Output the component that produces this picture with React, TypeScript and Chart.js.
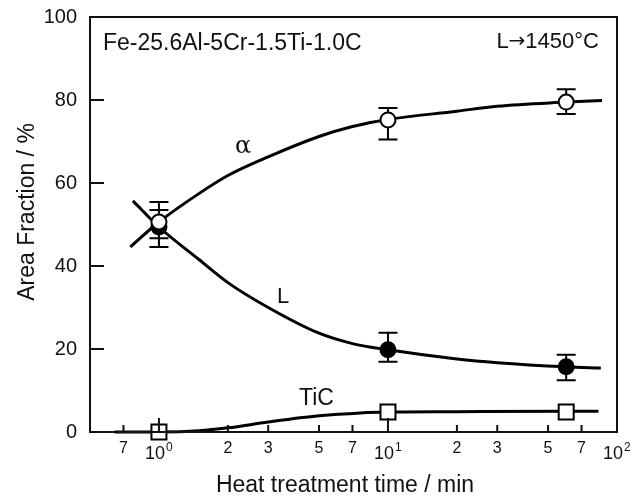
import React, { useEffect, useRef } from 'react';
import { Chart, registerables } from 'chart.js';

Chart.register(...registerables);

// measured points
const pointTimes = [1, 10, 60];
const alphaValues = [50.6, 75.2, 79.5];
const alphaErrLow = [46.7, 70.5, 76.6];
const alphaErrHigh = [55.4, 78.1, 82.6];
const liquidValues = [49.4, 19.8, 15.7];
const liquidErrLow = [44.6, 16.9, 12.5];
const liquidErrHigh = [53.5, 23.9, 18.6];
const ticValues = [0, 4.8, 4.8];

// fitted curves
const alphaCurveTimes = [0.75, 1, 1.5, 2, 3, 5, 7, 10, 20, 30, 60, 86];
const alphaCurveValues = [44.6, 50.6, 57.5, 61.8, 66.3, 71.2, 73.6, 75.3, 77.3, 78.5, 79.5, 79.9];
const liquidCurveTimes = [0.77, 1, 1.5, 2, 3, 5, 7, 10, 20, 30, 60, 85];
const liquidCurveValues = [55.7, 49.4, 41.5, 36.0, 30.0, 23.8, 21.3, 19.8, 17.6, 16.7, 15.7, 15.4];
const ticCurveTimes = [0.64, 1, 1.5, 2, 3, 5, 7.6, 10, 20, 60, 83];
const ticCurveValues = [0, 0, 0.3, 1.0, 2.4, 3.9, 4.6, 4.8, 4.9, 5.0, 5.0];

const yTickValues = [0, 20, 40, 60, 80, 100];
const xMajorTicks = [1, 10, 100];
const xMajorExponents = ['0', '1', '2'];
const xMinorTicks = [0.7, 2, 3, 5, 7, 20, 30, 50, 70];
const xMinorLabels = ['7', '2', '3', '5', '7', '2', '3', '5', '7'];

const FONT = '"Liberation Sans", Arial, Helvetica, sans-serif';

const toXY = (xs: number[], ys: number[]) => xs.map((x, i) => ({ x, y: ys[i] }));

const decorPlugin = {
  id: 'decor',
  beforeDatasetsDraw(chart: any) {
    const ctx = chart.ctx;
    const xs = chart.scales.x;
    const ys = chart.scales.y;
    ctx.save();
    ctx.strokeStyle = '#000';
    ctx.lineWidth = 2;
    const bars = [
      [alphaErrLow, alphaErrHigh],
      [liquidErrLow, liquidErrHigh],
    ];
    bars.forEach(([lo, hi]) => {
      pointTimes.forEach((t, i) => {
        const px = xs.getPixelForValue(t);
        const y1 = ys.getPixelForValue(lo[i]);
        const y2 = ys.getPixelForValue(hi[i]);
        ctx.beginPath();
        ctx.moveTo(px, y1);
        ctx.lineTo(px, y2);
        ctx.moveTo(px - 9.5, y1);
        ctx.lineTo(px + 9.5, y1);
        ctx.moveTo(px - 9.5, y2);
        ctx.lineTo(px + 9.5, y2);
        ctx.stroke();
      });
    });
    ctx.restore();
  },
  afterDraw(chart: any) {
    const ctx = chart.ctx;
    const xs = chart.scales.x;
    const ys = chart.scales.y;
    const a = chart.chartArea;
    ctx.save();
    // frame
    ctx.strokeStyle = '#111';
    ctx.lineWidth = 2;
    ctx.strokeRect(a.left, a.top, a.right - a.left, a.bottom - a.top);
    // ticks
    ctx.beginPath();
    yTickValues.forEach((v) => {
      if (v === 0 || v === 100) return;
      const py = ys.getPixelForValue(v);
      ctx.moveTo(a.left, py);
      ctx.lineTo(a.left + 14, py);
    });
    xMajorTicks.forEach((v) => {
      if (v === 100) return;
      const px = xs.getPixelForValue(v);
      ctx.moveTo(px, a.bottom);
      ctx.lineTo(px, a.bottom - 14);
    });
    xMinorTicks.forEach((v) => {
      const px = xs.getPixelForValue(v);
      ctx.moveTo(px, a.bottom);
      ctx.lineTo(px, a.bottom - 7);
    });
    ctx.stroke();

    ctx.fillStyle = '#111';
    // y labels
    ctx.font = `20px ${FONT}`;
    ctx.textAlign = 'right';
    ctx.textBaseline = 'middle';
    yTickValues.forEach((v) => {
      ctx.fillText(String(v), a.left - 13, ys.getPixelForValue(v));
    });
    // x minor labels
    ctx.font = `16px ${FONT}`;
    ctx.textAlign = 'center';
    ctx.textBaseline = 'alphabetic';
    xMinorTicks.forEach((v, i) => {
      ctx.fillText(xMinorLabels[i], xs.getPixelForValue(v), a.bottom + 21);
    });
    // x major labels with superscripts
    xMajorTicks.forEach((v, i) => {
      const px = xs.getPixelForValue(v);
      ctx.font = `18px ${FONT}`;
      ctx.textAlign = 'right';
      ctx.fillText('10', px + 6, a.bottom + 27);
      ctx.font = `12px ${FONT}`;
      ctx.textAlign = 'left';
      ctx.fillText(xMajorExponents[i], px + 7, a.bottom + 19);
    });
    // axis titles
    ctx.font = `23px ${FONT}`;
    ctx.textAlign = 'center';
    ctx.fillText('Heat treatment time / min', 345, 492);
    ctx.save();
    ctx.translate(34, 212);
    ctx.rotate(-Math.PI / 2);
    ctx.fillText('Area Fraction / %', 0, 0);
    ctx.restore();
    // annotations
    ctx.textAlign = 'left';
    ctx.font = `23px ${FONT}`;
    ctx.fillText('Fe-25.6Al-5Cr-1.5Ti-1.0C', 103, 50);
    // L→1450°C
    ctx.font = `22px ${FONT}`;
    ctx.textAlign = 'right';
    ctx.fillText('1450\u00b0C', 599, 48);
    const numW = ctx.measureText('1450\u00b0C').width;
    ctx.font = `20px "DejaVu Sans", sans-serif`;
    ctx.fillText('\u2192', 599 - numW, 47);
    const arrW = ctx.measureText('\u2192').width;
    ctx.font = `22px ${FONT}`;
    ctx.fillText('L', 599 - numW - arrW, 48);
    ctx.textAlign = 'left';
    ctx.font = `24px "DejaVu Serif", serif`;
    ctx.fillText('\u03b1', 235, 153);
    ctx.font = `22px ${FONT}`;
    ctx.fillText('L', 277, 303);
    ctx.font = `23px ${FONT}`;
    ctx.fillText('TiC', 299, 405);
    ctx.restore();
  },
};

export default function App() {
  const ref = useRef<HTMLCanvasElement | null>(null);
  useEffect(() => {
    if (!ref.current) return;
    const lineBase = {
      type: 'line' as const,
      showLine: true,
      pointRadius: 0,
      borderColor: '#000',
      borderWidth: 3,
      cubicInterpolationMode: 'monotone' as const,
      fill: false,
      clip: false as any,
      order: 5,
    };
    const chart = new Chart(ref.current, {
      type: 'line',
      data: {
        datasets: [
          {
            label: 'α',
            data: toXY(pointTimes, alphaValues),
            showLine: false,
            pointStyle: 'circle',
            pointRadius: 7.5,
            pointBackgroundColor: '#fff',
            pointBorderColor: '#000',
            pointBorderWidth: 2,
            clip: false as any,
            order: 0,
          },
          {
            label: 'L',
            data: toXY(pointTimes, liquidValues),
            showLine: false,
            pointStyle: 'circle',
            pointRadius: 7.5,
            pointBackgroundColor: '#000',
            pointBorderColor: '#000',
            pointBorderWidth: 2,
            clip: false as any,
            order: 1,
          },
          {
            label: 'TiC',
            data: toXY(pointTimes, ticValues),
            showLine: false,
            pointStyle: 'rect',
            pointRadius: 10.6,
            pointBackgroundColor: '#fff',
            pointBorderColor: '#000',
            pointBorderWidth: 2,
            clip: false as any,
            order: 2,
          },
          { ...lineBase, label: 'α fit', data: toXY(alphaCurveTimes, alphaCurveValues) },
          { ...lineBase, label: 'L fit', data: toXY(liquidCurveTimes, liquidCurveValues) },
          { ...lineBase, label: 'TiC fit', data: toXY(ticCurveTimes, ticCurveValues) },
        ] as any,
      },
      options: {
        animation: false,
        responsive: false,
        devicePixelRatio: 1,
        layout: { padding: { left: 90, top: 17, right: 27, bottom: 66 } },
        plugins: { legend: { display: false }, tooltip: { enabled: false } },
        events: [],
        scales: {
          x: { type: 'logarithmic', min: 0.5, max: 100, display: false },
          y: { type: 'linear', min: 0, max: 100, display: false },
        },
      },
      plugins: [decorPlugin],
    });
    return () => chart.destroy();
  }, []);
  return (
    <div style={{ position: 'absolute', left: 0, top: 0, width: 644, height: 498, background: '#fff' }}>
      <canvas ref={ref} width={644} height={498} />
    </div>
  );
}
